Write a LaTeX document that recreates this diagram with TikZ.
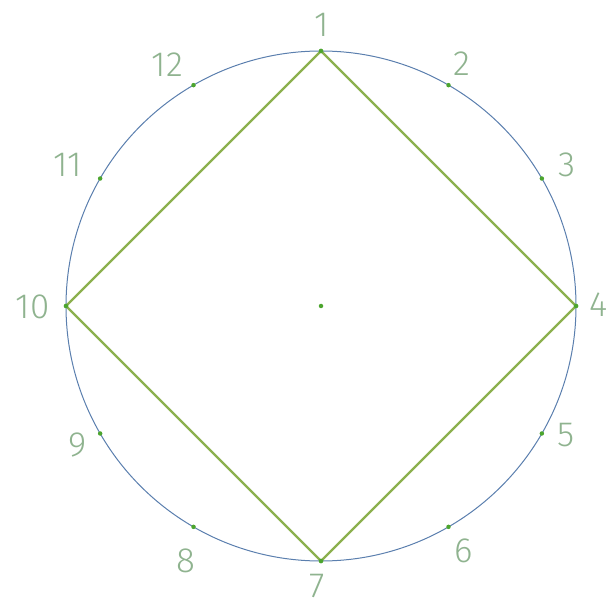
\documentclass[tikz,border=0pt]{standalone}
\usepackage{fontspec}
\setmainfont{Fira Sans Light}
\usetikzlibrary{calc}

\definecolor{rimblue}{HTML}{5B7FAE}
\definecolor{sqgreen}{HTML}{8CB04E}
\definecolor{dotgreen}{HTML}{4CA52E}
\definecolor{labgreen}{HTML}{8FB38F}

\begin{document}
\begin{tikzpicture}[
    x=1pt, y=1pt,
    dot/.style={circle, fill=dotgreen, inner sep=0pt, minimum size=4.5pt},
    hour/.style={text=labgreen, font=\fontsize{35}{35}\selectfont, inner sep=0pt}
  ]
  \useasboundingbox (0,0) rectangle (610,603);

  % centre and rim
  \node[dot] (c) at (321,297) {};
  \draw[rimblue, line width=1pt] (c) circle (255);

  % twelve points round the rim
  \foreach \k in {1,...,12}
    \node[dot] (p\k) at ($(c)+({90-30*(\k-1)}:255)$) {};

  % their numbers
  \foreach \k/\dx/\dy in {1/0.5/281.5, 2/141/242.5, 3/245.5/141, 4/277.5/1,
      5/245.5/-129, 6/142.5/-245, 7/-4/-279.5, 8/-135.5/-255,
      9/-243/-139, 10/-288.5/-0.5, 11/-253.5/141, 12/-153.5/241}
    \node[hour] (l\k) at ($(c)+(\dx,\dy)$) {\k};

  % the square
  \draw[sqgreen, line width=2.2pt, line join=miter]
    (p1.center) -- (p4.center) -- (p7.center) -- (p10.center) -- cycle;
  \foreach \k in {1,4,7,10} \node[dot] at (p\k) {};
\end{tikzpicture}
\end{document}
